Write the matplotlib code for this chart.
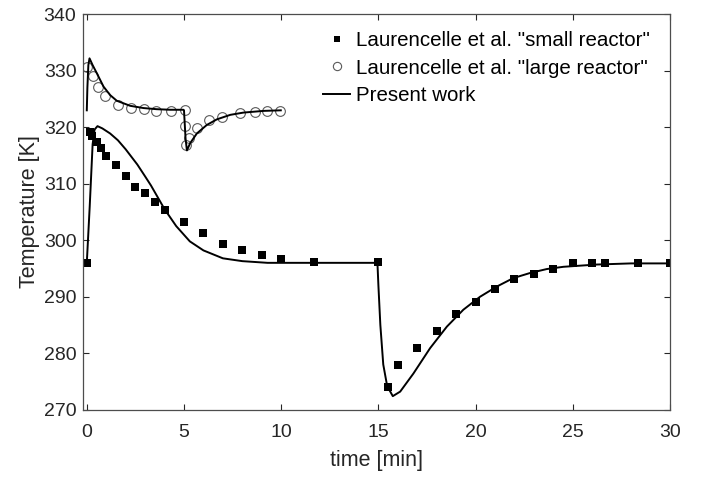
import matplotlib
matplotlib.use("Agg")
import matplotlib.pyplot as plt

plt.rcParams["font.family"] = ["Liberation Sans", "DejaVu Sans"]

# ── data ─────────────────────────────────────────────────────────────────────
small_t = [0, 0.14, 0.26, 0.5, 0.75, 1, 1.5, 2, 2.5, 3, 3.5, 4, 5, 6, 7, 8, 9,
           10, 11.67, 15, 15.5, 16, 17, 18, 19, 20, 21, 22, 23, 24, 25, 26,
           26.67, 28.33, 30]
small_T = [296, 319.2, 318.4, 317.4, 316.3, 315, 313.3, 311.3, 309.4, 308.3,
           306.8, 305.3, 303.3, 301.3, 299.3, 298.3, 297.3, 296.7, 296.2, 296.1,
           274.0, 278.0, 281.0, 284.0, 286.9, 289.0, 291.4, 293.1, 294.0, 294.9,
           295.9, 295.9, 295.9, 295.9, 295.9]

large_t = [0.03, 0.31, 0.57, 0.96, 1.61, 2.25, 2.95, 3.57, 4.32, 5.03, 5.06,
           5.09, 5.28, 5.68, 6.28, 6.96, 7.9, 8.64, 9.27, 9.93]
large_T = [330.7, 329.1, 327.2, 325.5, 324.0, 323.4, 323.2, 322.9, 322.9, 323.1,
           320.3, 316.8, 318.1, 319.8, 321.2, 321.9, 322.5, 322.7, 322.8, 322.8]

# model curves ("Present work")
model_small_t = [0, 0.15, 0.3, 0.4, 0.55, 0.8, 1.2, 1.6, 2.0, 2.6, 3.0, 3.3, 3.6,
                 4.0, 4.6, 5.3, 6.0, 7.0, 8.0, 9.3, 11, 13, 14.95, 15.0, 15.1,
                 15.25, 15.45, 15.74, 16.12, 16.8, 17.66, 18.52, 19.37, 20.23,
                 21.09, 21.94, 22.8, 23.66, 24.52, 26.23, 28, 30]
model_small_T = [296, 306, 317, 319.6, 320.2, 319.8, 318.9, 317.7, 316.1, 313.4,
                 311.3, 309.7, 307.9, 305.5, 302.5, 299.8, 298.2, 296.8, 296.3,
                 296.0, 296.0, 296.0, 296.0, 292, 285, 278, 274.2, 272.4, 273.2,
                 276.4, 280.9, 284.7, 287.7, 290.0, 291.8, 293.3, 294.2, 294.9,
                 295.3, 295.7, 295.9, 295.9]

model_large_t = [0, 0.03, 0.08, 0.14, 0.3, 0.51, 0.86, 1.2, 1.54, 2.23, 2.92, 3.6,
                 4.3, 4.97, 5.0, 5.08, 5.15, 5.32, 5.66, 6.17, 6.69, 7.38, 8.06,
                 9.09, 9.98]
model_large_T = [323, 327, 331, 332.2, 331.0, 329.6, 327.2, 325.7, 324.7, 323.8,
                 323.4, 323.2, 323.1, 323.1, 323.0, 318, 315.9, 317.2, 318.9,
                 320.4, 321.4, 322.2, 322.6, 322.9, 323.0]

# ── figure ───────────────────────────────────────────────────────────────────
fig = plt.figure(figsize=(7.06, 4.78), dpi=100)
ax = fig.add_axes([83.3 / 706, 1 - 409.7 / 478, (670 - 83.3) / 706,
                   (409.7 - 14.3) / 478])

ax.plot(small_t, small_T, "s", color="black", ms=5.5, mew=0,
        label='Laurencelle et al. "small reactor"')
ax.plot(large_t, large_T, "o", mfc="none", mec="#5a5a5a", ms=7, mew=0.8,
        label='Laurencelle et al. "large reactor"')
ax.plot(model_small_t, model_small_T, "-", color="black", lw=1.4,
        label="Present work")
ax.plot(model_large_t, model_large_T, "-", color="black", lw=1.4)

ax.set_xlim(-0.18, 30)
ax.set_ylim(270, 340)
ax.set_xticks(range(0, 31, 5))
ax.set_yticks(range(270, 341, 10))

ax.tick_params(direction="in", top=True, right=True, length=4, width=0.8,
               color="#262626", labelsize=14, labelcolor="#262626")
ax.tick_params(axis="x", pad=10)
ax.tick_params(axis="y", pad=5)
for s in ax.spines.values():
    s.set_color("#4d4d4d")
    s.set_linewidth(0.9)

ax.set_xlabel("time [min]", fontsize=15.5, color="#262626", labelpad=7)
ax.set_ylabel("Temperature [K]", fontsize=15.5, color="#262626", labelpad=2.5)

leg = ax.legend(loc="upper right", bbox_to_anchor=(650 / 706, 1 - 31 / 478),
                bbox_transform=fig.transFigure, frameon=False, fontsize=14.8,
                handlelength=1.3, handletextpad=0.3, labelspacing=0.42,
                borderpad=0, borderaxespad=0, markerscale=0.85)

fig.savefig("out.png", dpi=100)
